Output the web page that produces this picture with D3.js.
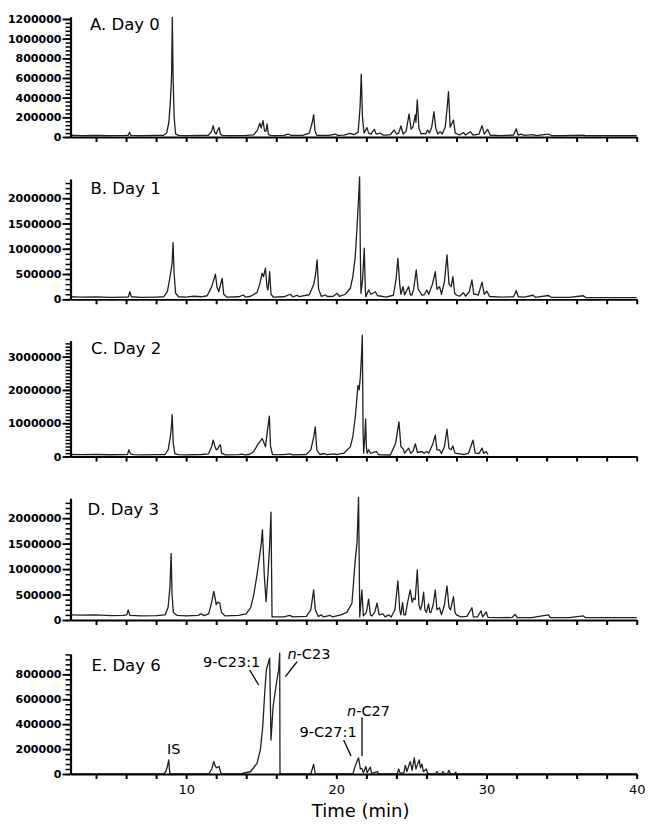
<!DOCTYPE html>
<html>
<head>
<meta charset="utf-8">
<script src="https://cdn.jsdelivr.net/npm/d3@7/dist/d3.min.js"></script>
<style>
	body { margin: 0; background: #fff; }
	svg text { font-family: "DejaVu Sans", Verdana, sans-serif; fill: #000; }
	.trace { fill: none; stroke: #202020; stroke-width: 1.3; stroke-linejoin: round; }
	.note line { stroke: #000; stroke-width: 1.3; }
</style>
</head>
<body>
<svg id="chart" width="650" height="839"></svg>
<script>
// panel titles and axis settings
const panelTitles = ["A. Day 0", "B. Day 1", "C. Day 2", "D. Day 3", "E. Day 6"];
const yMax = [1223000, 2380000, 3480000, 2390000, 963000];
const yTicks = [
	[0, 200000, 400000, 600000, 800000, 1000000, 1200000],
	[0, 500000, 1000000, 1500000, 2000000],
	[0, 1000000, 2000000, 3000000],
	[0, 500000, 1000000, 1500000, 2000000],
	[0, 200000, 400000, 600000, 800000]
];
const yMinorStep = [40000, 100000, 100000, 100000, 40000];
const timeTicks = [4, 6, 8, 10, 12, 14, 16, 18, 20, 22, 24, 26, 28, 30, 32, 34, 36, 38, 40];
const timeLabels = [10, 20, 30, 40];

// chromatograms: [time (min), abundance (thousands)]
const day0 = [[2.3,18],[3,15],[4,17],[5,14],[6,16],[6.15,18],[6.23,48],[6.32,16],[7,15],[8,17],[8.5,18],[8.7,40],[8.85,150],[8.95,360],[9.03,620],[9.08,1217],[9.13,620],[9.2,200],[9.3,30],[9.5,16],[10,15],[11,17],[11.5,18],[11.7,60],[11.8,115],[11.9,50],[12.0,30],[12.1,70],[12.2,95],[12.28,30],[12.4,16],[13,14],[14,16],[14.5,22],[14.75,70],[14.9,140],[15.0,90],[15.12,166],[15.22,60],[15.32,60],[15.39,132],[15.48,25],[15.7,15],[16.5,16],[16.8,28],[17,16],[17.8,18],[18.2,40],[18.4,150],[18.49,227],[18.58,60],[18.7,18],[19.5,16],[19.93,30],[20.1,16],[20.5,20],[20.93,38],[21.2,25],[21.45,50],[21.58,300],[21.66,640],[21.74,200],[21.85,40],[22.04,95],[22.15,40],[22.3,30],[22.53,78],[22.65,30],[22.93,40],[23.1,20],[23.33,20],[23.6,25],[23.86,71],[24.0,30],[24.15,40],[24.3,112],[24.45,30],[24.65,60],[24.84,234],[24.98,80],[25.1,100],[25.26,224],[25.3,150],[25.39,376],[25.5,90],[25.65,30],[25.81,38],[25.95,30],[26.08,71],[26.2,40],[26.35,100],[26.5,257],[26.62,90],[26.75,30],[26.92,54],[27.05,30],[27.25,100],[27.38,300],[27.47,461],[27.58,100],[27.8,173],[27.92,40],[28.2,20],[28.47,44],[28.6,20],[28.92,54],[29.1,20],[29.5,30],[29.7,115],[29.85,30],[30.07,78],[30.25,18],[31,15],[31.8,20],[31.98,84],[32.1,20],[32.3,30],[32.5,16],[33.1,25],[33.3,15],[34.13,30],[34.3,15],[35,14],[36.45,20],[36.6,14],[38,15],[40,14]];

const day1 = [[2.3,50],[3,45],[4,48],[5,40],[5.8,42],[6.15,45],[6.25,150],[6.35,50],[7,40],[8,45],[8.5,50],[8.75,150],[8.9,400],[9.0,580],[9.06,700],[9.13,1120],[9.2,500],[9.3,120],[9.5,50],[10,45],[10.5,60],[11,50],[11.4,70],[11.7,250],[11.95,495],[12.05,250],[12.17,150],[12.3,300],[12.4,415],[12.5,100],[12.7,45],[13.5,50],[13.8,85],[13.95,45],[14.3,60],[14.72,133],[14.9,300],[15.06,515],[15.15,450],[15.28,615],[15.38,250],[15.45,185],[15.56,545],[15.65,100],[15.8,45],[16.5,50],[16.94,100],[17.1,50],[17.4,80],[17.5,55],[18.2,90],[18.5,300],[18.62,500],[18.72,780],[18.82,200],[19.0,60],[19.27,85],[19.4,55],[19.8,60],[20.05,118],[20.2,60],[20.6,100],[20.93,218],[21.1,450],[21.26,845],[21.38,1440],[21.48,2000],[21.55,2420],[21.6,900],[21.64,118],[21.75,400],[21.86,1010],[21.93,200],[21.97,50],[22.15,185],[22.3,100],[22.6,150],[22.75,70],[23.04,60],[23.3,45],[23.8,80],[23.98,400],[24.1,810],[24.22,300],[24.3,100],[24.44,250],[24.55,90],[24.81,250],[24.93,90],[25.03,85],[25.15,200],[25.32,580],[25.45,200],[25.7,85],[25.85,90],[26.03,185],[26.15,100],[26.4,300],[26.59,545],[26.7,200],[26.87,250],[27.0,100],[27.2,350],[27.37,880],[27.5,300],[27.65,250],[27.76,450],[27.88,120],[28.0,85],[28.2,60],[28.47,130],[28.6,60],[28.85,150],[29.03,385],[29.15,100],[29.3,100],[29.45,80],[29.7,340],[29.85,100],[30.03,160],[30.2,55],[31,45],[31.8,50],[31.98,170],[32.12,50],[32.5,45],[33.1,80],[33.25,40],[34.13,75],[34.3,40],[35.5,40],[36.45,70],[36.6,35],[38,35],[40,35]];

const day2 = [[2.3,60],[3,55],[4,60],[5,52],[5.8,55],[6.1,60],[6.18,200],[6.3,80],[6.5,55],[7,50],[8,55],[8.6,60],[8.8,200],[8.95,600],[9.02,900],[9.07,1260],[9.14,400],[9.25,80],[9.5,55],[10,50],[11,60],[11.5,80],[11.7,300],[11.8,490],[11.92,300],[12.0,200],[12.1,230],[12.2,320],[12.28,355],[12.36,100],[12.6,50],[13.5,55],[13.7,70],[13.9,50],[14.2,60],[14.5,150],[14.8,380],[15.06,540],[15.15,450],[15.28,290],[15.42,800],[15.54,1210],[15.62,300],[15.75,60],[16.5,55],[16.9,80],[17.1,50],[18.0,60],[18.3,200],[18.5,600],[18.6,890],[18.7,200],[18.9,60],[19.2,90],[19.35,55],[19.86,80],[20.0,55],[20.5,100],[20.93,290],[21.1,600],[21.26,1180],[21.44,2140],[21.52,2000],[21.6,2400],[21.67,2980],[21.73,3650],[21.78,800],[21.82,100],[21.9,600],[21.95,1130],[22.0,300],[22.05,100],[22.15,200],[22.3,90],[22.5,130],[22.67,150],[22.8,60],[23.0,50],[23.6,45],[23.95,400],[24.17,1040],[24.3,300],[24.44,230],[24.55,100],[24.81,250],[24.95,100],[25.1,150],[25.26,380],[25.4,120],[25.7,150],[25.85,100],[26.03,150],[26.15,100],[26.4,350],[26.59,640],[26.7,200],[26.87,200],[27.0,90],[27.2,300],[27.37,820],[27.5,250],[27.65,200],[27.76,320],[27.9,100],[28.2,80],[28.5,60],[28.8,100],[29.1,490],[29.25,100],[29.5,90],[29.7,250],[29.82,90],[29.98,150],[30.1,60]];

const day3 = [[2.3,100],[3,95],[4,100],[5,85],[5.8,90],[6.05,100],[6.14,200],[6.25,90],[7,80],[8,85],[8.6,100],[8.8,250],[8.92,640],[9.0,1310],[9.06,500],[9.15,150],[9.4,90],[10,80],[10.8,90],[11.0,120],[11.2,85],[11.5,120],[11.7,350],[11.84,560],[11.95,400],[12.0,300],[12.1,350],[12.24,330],[12.35,150],[12.6,80],[13.5,90],[14.0,120],[14.3,250],[14.5,490],[14.7,850],[14.83,1120],[15.0,1500],[15.08,1770],[15.2,900],[15.32,360],[15.45,900],[15.56,1470],[15.65,2120],[15.72,60],[15.9,60],[16.5,60],[16.9,90],[17.1,60],[18.0,70],[18.3,200],[18.49,590],[18.6,200],[18.8,70],[19.0,100],[19.15,60],[19.6,90],[19.75,60],[20.3,100],[20.7,150],[21.04,330],[21.26,1180],[21.38,1520],[21.48,2410],[21.56,60],[21.7,590],[21.8,80],[22.0,150],[22.15,410],[22.27,100],[22.37,80],[22.55,150],[22.71,330],[22.85,100],[23.1,120],[23.25,60],[23.5,100],[23.65,60],[23.9,200],[24.1,770],[24.22,200],[24.3,100],[24.41,340],[24.5,100],[24.6,100],[24.75,350],[24.92,590],[25.05,350],[25.14,430],[25.25,400],[25.39,985],[25.5,300],[25.6,200],[25.7,300],[25.81,545],[25.9,200],[26.0,150],[26.14,315],[26.22,150],[26.3,150],[26.45,300],[26.59,590],[26.7,200],[26.87,240],[27.0,100],[27.2,300],[27.37,670],[27.5,250],[27.6,200],[27.8,460],[27.9,150],[28.0,100],[28.3,60],[28.7,70],[29.03,240],[29.12,60],[29.4,60],[29.63,180],[29.75,60],[29.98,160],[30.1,50],[31,45],[31.7,50],[31.9,110],[32.05,45],[33,45],[34.13,100],[34.25,45],[35.5,45],[36.45,80],[36.6,45],[38,45],[40,45]];

const day6 = [[2.3,0],[8.5,0],[8.65,20],[8.75,60],[8.84,113],[8.9,20],[8.95,0],[11.5,0],[11.7,40],[11.84,100],[11.95,60],[12.05,50],[12.1,55],[12.2,60],[12.3,10],[12.4,0],[13.6,0],[13.83,8],[14.28,18],[14.72,86],[14.94,193],[15.1,380],[15.23,648],[15.34,835],[15.56,929],[15.65,273],[15.79,540],[16.01,728],[16.16,835],[16.23,969],[16.25,0],[18.3,0],[18.49,78],[18.6,0],[21.1,0],[21.26,65],[21.48,130],[21.6,40],[21.7,45],[21.8,10],[21.97,60],[22.05,10],[22.26,55],[22.35,5],[22.75,20],[22.8,0],[24.05,0],[24.15,40],[24.25,5],[24.5,10],[24.59,70],[24.7,20],[24.92,100],[25.05,30],[25.19,130],[25.3,40],[25.52,113],[25.6,50],[25.7,80],[25.8,20],[25.99,40],[26.1,0],[26.6,0],[26.7,20],[26.8,0],[27.0,0],[27.1,20],[27.2,0],[27.4,0],[27.5,30],[27.6,0],[27.85,0],[27.95,15],[28.0,0],[40,0]];

const traces = [day0, day1, day2, day3, day6];

// peak labels on day 6: anchor at (time, thousands)
const notes = [
	{ label: "IS", t: 8.84, v: 113, line: null, tx: 5, ty: -6, anchor: "middle" },
	{ label: "9-C23:1", t: 14.83, v: 714, line: [-9, -15], tx: -27, ty: -18, anchor: "middle" },
	{ label: "C23", italic: "n-", t: 16.61, v: 781, line: [11.7, -15], tx: 2, ty: -18, anchor: "start" },
	{ label: "9-C27:1", t: 20.98, v: 144, line: [-7.4, -16], tx: -23, ty: -19.5, anchor: "middle" },
	{ label: "C27", italic: "n-", t: 21.71, v: 144, line: [0, -38.5], tx: -15, ty: -40, anchor: "start" }
];

// layout
const panels = [
	{ base: 137, top: 16.7, titleX: 90, titleY: 29.5 },
	{ base: 299.3, top: 179, titleX: 90.5, titleY: 193.5 },
	{ base: 456.5, top: 340.7, titleX: 91, titleY: 353.5 },
	{ base: 620, top: 498.3, titleX: 87.5, titleY: 515 },
	{ base: 774, top: 654, titleX: 91.5, titleY: 670.5 }
];

const svg = d3.select("#chart");
const x = d3.scaleLinear().domain([2.3, 40]).range([70.5, 636.7]);

panels.forEach((p, i) => {
	const y = d3.scaleLinear().domain([0, yMax[i]]).range([p.base, p.top]);
	const g = svg.append("g").attr("class", "panel");

	// trace first so axes sit on top
	const line = d3.line()
		.x(d => x(d[0]))
		.y(d => y(d[1] * 1000));
	g.append("path").datum(traces[i]).attr("class", "trace").attr("d", line);

	// minor y ticks (the comb)
	const minor = d3.range(0, yMax[i], yMinorStep[i]);
	g.append("g")
		.attr("transform", `translate(${x(2.3)},0)`)
		.call(d3.axisLeft(y).tickValues(minor).tickSize(5).tickSizeOuter(0).tickFormat(""))
		.call(a => a.select(".domain").remove())
		.call(a => a.selectAll("line").attr("stroke-width", 1.5));

	// major y ticks and labels
	g.append("g")
		.attr("transform", `translate(${x(2.3)},0)`)
		.call(d3.axisLeft(y).tickValues(yTicks[i]).tickSize(8).tickSizeOuter(0).tickPadding(1).tickFormat(d3.format("d")))
		.call(a => a.select(".domain").attr("stroke-width", 2.2))
		.call(a => a.selectAll("line").attr("stroke-width", 1.8))
		.call(a => a.selectAll("text")
			.attr("font-family", "\"DejaVu Sans\", Verdana, sans-serif")
			.attr("font-size", 11)
			.attr("font-weight", "bold"));

	// time axis
	const last = i === panels.length - 1;
	g.append("g")
		.attr("transform", `translate(0,${p.base})`)
		.call(d3.axisBottom(x).tickValues(timeTicks).tickSize(5).tickSizeOuter(0).tickPadding(6)
			.tickFormat(d => last && timeLabels.includes(d) ? d : ""))
		.call(a => a.select(".domain").attr("stroke-width", 1.8))
		.call(a => a.selectAll("line").attr("stroke-width", 2))
		.call(a => a.selectAll("text")
			.attr("font-family", "\"DejaVu Sans\", Verdana, sans-serif")
			.attr("font-size", 13));

	g.append("text")
		.attr("x", p.titleX)
		.attr("y", p.titleY)
		.attr("font-size", 16.5)
		.text(panelTitles[i]);

	if (last) {
		const nb = g.selectAll("g.note").data(notes).enter()
			.append("g").attr("class", "note")
			.attr("transform", d => `translate(${x(d.t)},${y(d.v * 1000)})`);
		nb.filter(d => d.line).append("line")
			.attr("x1", 0).attr("y1", 0)
			.attr("x2", d => d.line[0]).attr("y2", d => d.line[1]);
		const tx = nb.append("text")
			.attr("x", d => d.tx)
			.attr("y", d => d.ty)
			.attr("text-anchor", d => d.anchor)
			.attr("font-size", 14.5);
		tx.filter(d => d.italic).append("tspan").attr("font-style", "italic").text(d => d.italic);
		tx.append("tspan").text(d => d.label);

		svg.append("text")
			.attr("x", (x(2.3) + x(40)) / 2 + 7)
			.attr("y", 817)
			.attr("text-anchor", "middle")
			.attr("font-size", 18)
			.text("Time (min)");
	}
});
</script>
</body>
</html>
